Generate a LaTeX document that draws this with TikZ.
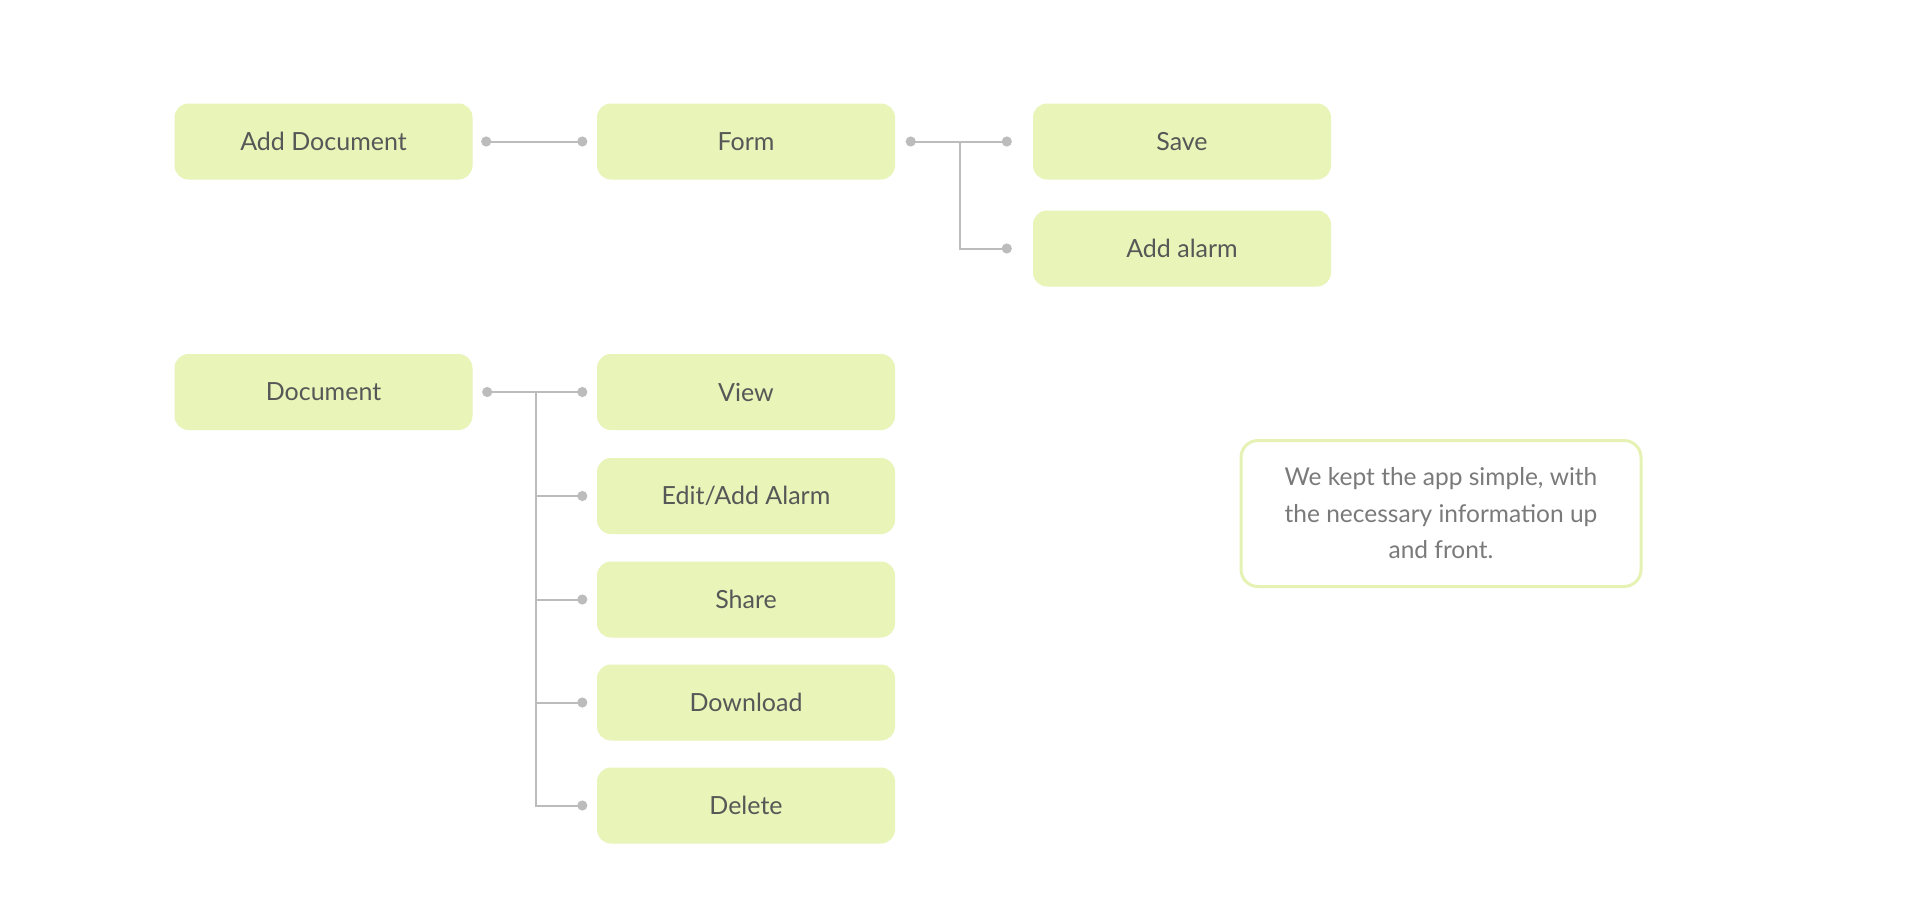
\documentclass[tikz,border=0pt]{standalone}
\usepackage{fontspec}
\setmainfont{Lato}
\usetikzlibrary{arrows.meta}
\definecolor{boxfill}{HTML}{E8F4B8}
\definecolor{boxtext}{HTML}{575757}
\definecolor{linkgray}{HTML}{BCBCBC}
\definecolor{noteborder}{HTML}{E6F2B4}
\definecolor{notetext}{HTML}{7A7A7A}
\begin{document}
\begin{tikzpicture}[x=1pt,y=-1pt,
  stepbox/.style={rectangle, rounded corners=14pt, fill=boxfill, draw=none,
    minimum width=298pt, minimum height=76pt, inner sep=0pt, text=boxtext,
    font=\fontsize{25}{30}\selectfont},
  notebox/.style={rectangle, rounded corners=17pt, draw=noteborder, line width=3pt,
    fill=white, minimum width=400pt, minimum height=146pt, inner sep=0pt,
    align=center, text=notetext, font=\fontsize{24.5}{36.5}\selectfont},
  conn/.style={draw=linkgray, line width=2pt},
  dots/.style={conn, {Circle[length=10pt]}-{Circle[length=10pt]}},
  enddot/.style={conn, -{Circle[length=10pt]}}]
\useasboundingbox[fill=white] (0,0) rectangle (1920,908);

% top flow
\node[stepbox] (adddoc) at (323.5,141.5) {Add Document};
\node[stepbox] (form)   at (746,141.5)   {Form};
\node[stepbox] (save)   at (1182,141.5)  {Save};
\node[stepbox] (alarm)  at (1182,248.5)  {Add alarm};

% document actions
\node[stepbox] (doc)      at (323.5,392) {Document};
\node[stepbox] (view)     at (746,392)   {View};
\node[stepbox] (edit)     at (746,496)   {Edit/Add Alarm};
\node[stepbox] (share)    at (746,599.5) {Share};
\node[stepbox] (download) at (746,702.5) {Download};
\node[stepbox] (delete)   at (746,805.5) {Delete};

% note
\node[notebox] (note) at (1441,513.5)
  {We kept the app simple, with\\the necessary information up\\and front.};

% connectors: top flow
\draw[dots] ([xshift=8.5pt]adddoc.east) -- ([xshift=-9.5pt]form.west);
\draw[dots] ([xshift=10.5pt]form.east) -- ([xshift=-21pt]save.west);
\coordinate (fj) at ([xshift=65pt]form.east);
\draw[enddot] (fj) |- ([xshift=-21pt]alarm.west);

% connectors: document actions
\draw[dots] ([xshift=9.5pt]doc.east) -- ([xshift=-9.5pt]view.west);
\coordinate (dj) at ([xshift=63pt]doc.east);
\draw[enddot] (dj) |- ([xshift=-9.5pt]delete.west);
\draw[enddot] (dj |- edit.west) -- ([xshift=-9.5pt]edit.west);
\draw[enddot] (dj |- share.west) -- ([xshift=-9.5pt]share.west);
\draw[enddot] (dj |- download.west) -- ([xshift=-9.5pt]download.west);
\end{tikzpicture}
\end{document}
